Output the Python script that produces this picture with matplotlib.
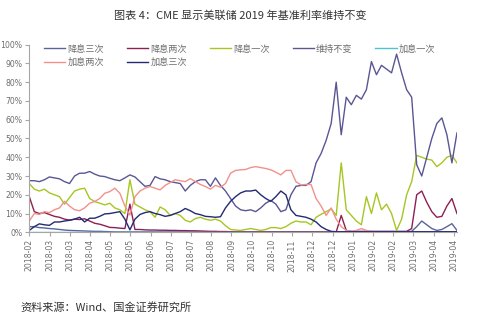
import numpy as np
import matplotlib
matplotlib.use("Agg")
import matplotlib.pyplot as plt

plt.rcParams['font.family'] = ['Noto Sans CJK SC', 'DejaVu Sans']

tick_labels = ["2018-02", "2018-03", "2018-03", "2018-04", "2018-05", "2018-05",
               "2018-06", "2018-07", "2018-07", "2018-08", "2018-09", "2018-10",
               "2018-10", "2018-11", "2018-12", "2018-12", "2019-01", "2019-02",
               "2019-02", "2019-03", "2019-04", "2019-04"]

series_names = ["降息三次", "降息两次", "降息一次", "维持不变", "加息一次", "加息两次", "加息三次"]

cut3 = [3, 3, 2.5, 2.3, 2, 1.8, 1.5, 1.2, 1, 0.9, 0.8, 0.7, 0.6, 0.5, 0.5, 0.4, 0.3,
        0.2, 0.2, 0.2, 0.2, 0.2, 0.2, 0.2, 0.2, 0.2, 0.2, 0.2, 0.2, 0.2, 0.2, 0.2, 0.2,
        0.2, 0.2, 0.2, 0.2, 0.2, 0.2, 0.2, 0.2, 0.2, 0.2, 0.2, 0.2, 0.2, 0.2, 0.2, 0.2,
        0.2, 0.2, 0.2, 0.2, 0.2, 0.2, 0.2, 0.2, 0.2, 0.2, 0.2, 0.2, 0.2, 0.2, 0.2, 0.2,
        0.2, 0.2, 0.2, 0.2, 0.2, 0.2, 0.2, 0.2, 0.2, 0.2, 0.2,
        0.5, 3, 6, 4, 2, 1, 1.5, 3, 4.6, 1]

cut2 = [19, 11, 10, 10.5, 9.5, 8.5, 8, 7, 6.5, 7, 6.8, 7.2, 6, 4.8, 4.3, 3.5, 2.6,
        2.5, 2.2, 2, 15, 1.5, 1.5, 1.3, 1.2, 1.2, 1.1, 1.1, 1, 1, 0.9, 0.9, 0.8, 0.8,
        0.7, 0.6, 0.5, 0.5, 0.4, 0.4, 0.3,
        0.2, 0.2, 0.2, 0.2, 0.2, 0.2, 0.2, 0.2, 0.2, 0.2, 0.2, 0.2, 0.2, 0.2, 0.2, 0.2,
        0.2, 0.2, 0.2, 0.2, 0.2,
        9, 1,
        0.5, 0.5, 0.5, 0.5, 0.5, 0.5, 0.5, 0.5, 0.5, 0.5, 0.5, 0.5,
        2, 20, 22, 16, 11, 8, 8.5, 14, 18, 10]

cut1 = [26, 23, 22, 23, 21, 20, 19, 15, 18.5, 22, 23, 23.5, 18, 16.4, 15.5, 14.6,
        15.5, 13, 12, 10, 28, 15, 13.5, 12, 11, 8, 13.5, 12, 9, 10, 9, 6.4, 5.5, 7.3,
        8, 7, 6.4, 7, 6, 3.5, 1.5, 1.2, 1, 1.5, 2, 1.5, 1, 1.5, 2.5, 2.5, 2, 3, 4.8,
        6, 5.5, 5.5, 4, 8, 9.6, 11, 12.5, 9, 37, 12, 9, 6, 4, 19, 10, 21, 12, 15, 10,
        1, 7, 20, 27, 41, 40, 39, 38.5, 35, 37, 40, 41, 37]

hold = [27.5, 27.5, 27, 28, 29.5, 29, 28.5, 27, 26, 30, 31.5, 31.5, 32.4, 31, 30,
        29.7, 28.8, 28, 27.5, 29, 30.6, 29.5, 27, 24.5, 25, 29.7, 28.5, 28, 27, 26.5,
        26, 22, 25, 27, 28, 28, 24.5, 29, 25, 22, 18, 14, 12, 11.5, 12, 11, 13, 15.5,
        17, 15, 11, 12, 20, 24.5, 25, 25, 27, 37, 42, 49, 58, 80, 52, 72, 68, 73, 71,
        76, 91, 84, 89, 87, 85, 95, 85, 76, 72, 36, 30, 40, 50, 58, 61, 52, 37, 53]

hike1 = [0, 0, 0, 0, 0, 0, 0, 0, 0, 0, 0, 0, 0, 0, 0, 0, 0, 0, 0, 0, 0, 0,
         0, 0, 0, 0, 0, 0, 0, 0, 0, 0, 0, 0, 0, 0, 0, 0, 0, 0, 0, 0, 0, 0,
         0, 0, 0, 0, 0, 0, 0, 0, 0, 0, 0, 0, 0, 0, 0, 0, 0, 0, 0, 0, 0, 0,
         0, 0, 0, 0, 0, 0, 0, 0, 0, 0, 0, 0, 0, 0, 0, 0, 0, 0, 0, 0]

hike2 = [6, 10, 9.5, 11, 10.5, 12, 13, 16.5, 14, 12, 11.5, 13, 15.5, 16.4, 18, 20.8,
         21.7, 23.5, 20.8, 14, 9.2, 19, 22, 23.5, 24.4, 23.5, 22.6, 25, 26.5, 28, 27.5,
         27, 28.6, 27, 25.5, 24.4, 23, 25, 24, 26, 31.5, 33, 33.3, 33.5, 34.5, 35, 34.5,
         34, 33.3, 32, 30.6, 33, 33, 27, 25.2, 25.5, 25.5, 18, 14, 9, 13, 7, 3, 1, 0.5,
         1, 2, 1, 0.5,
         0.2, 0.2, 0.2, 0.2, 0.2, 0.2, 0.2, 0.2, 0.2, 0.2, 0.2, 0.2, 0.2, 0.2, 0.2, 0.2, 0.2]

hike3 = [1, 3, 4.5, 4, 3.7, 5.5, 5.5, 6, 6.4, 7, 8, 5.5, 7.5, 7.5, 8.5, 9.8, 10, 10.5,
         11, 7, 1.3, 7, 9.5, 10.5, 11, 10, 9.4, 8.5, 9, 10, 11, 12.7, 11.5, 10, 9.4, 8.5,
         8.3, 8, 8.3, 13, 16.5, 19, 21, 22, 22, 22.5, 20, 18, 16.5, 19, 22, 20, 12, 9,
         8.5, 8, 7, 5.5, 3, 1.5, 0.5,
         0.3, 0.3, 0.3, 0.3, 0.3, 0.3, 0.3, 0.3, 0.3, 0.3, 0.3, 0.3, 0.3, 0.3, 0.3, 0.3,
         0.3, 0.3, 0.3, 0.3, 0.3, 0.3, 0.3, 0.3, 0.3]

colors = ["#5A6499", "#8E1F52", "#A6C623", "#5A5694", "#4FC3D3", "#F2918C", "#222A73"]

all_series = [cut3, cut2, cut1, hold, hike1, hike2, hike3]
n = len(hold)
x = np.linspace(0, 21.15, n)

fig = plt.figure(figsize=(4.8, 3.22), dpi=100)
ax = fig.add_axes([0.061, 0.2786, 0.891, 0.5826])

handles = []
for vals, c, name in zip(all_series, colors, series_names):
    ln, = ax.plot(x, vals, color=c, lw=1.0, label=name)
    handles.append(ln)

ax.set_xlim(0, 21.15)
ax.set_ylim(0, 100)
ax.set_yticks(np.arange(0, 101, 10))
ax.set_yticklabels([f"{v}%" for v in range(0, 101, 10)])
ax.set_xticks(np.arange(len(tick_labels)))
ax.set_xticklabels(tick_labels, rotation=90, family='DejaVu Sans')

for s in ['top', 'right']:
    ax.spines[s].set_visible(False)
for s in ['left', 'bottom']:
    ax.spines[s].set_color('#A6A6A6')
    ax.spines[s].set_linewidth(0.8)
ax.tick_params(axis='both', colors='#A6A6A6', length=3, width=0.8, direction='out',
               labelsize=5.6, labelcolor='#6E6E6E', pad=2)
for lab in ax.get_yticklabels():
    lab.set_family('DejaVu Sans')

order = [0, 5, 1, 6, 2, 3, 4]
leg = ax.legend([handles[i] for i in order], [series_names[i] for i in order],
                ncol=5, loc='upper left', bbox_to_anchor=(0.02, 1.035),
                frameon=False, fontsize=6.6, handlelength=2.3, handletextpad=0.25,
                columnspacing=2.5, labelspacing=0.45, borderaxespad=0.3)
for t in leg.get_texts():
    t.set_color('#6E6E6E')

fig.text(0.5, 0.952, "图表 4：CME 显示美联储 2019 年基准利率维持不变",
         ha='center', va='center', fontsize=8, color='#333333')
fig.text(0.042, 0.047, "资料来源：Wind、国金证券研究所", ha='left', va='center',
         fontsize=8, color='#333333')

fig.savefig("out.png", dpi=100)
